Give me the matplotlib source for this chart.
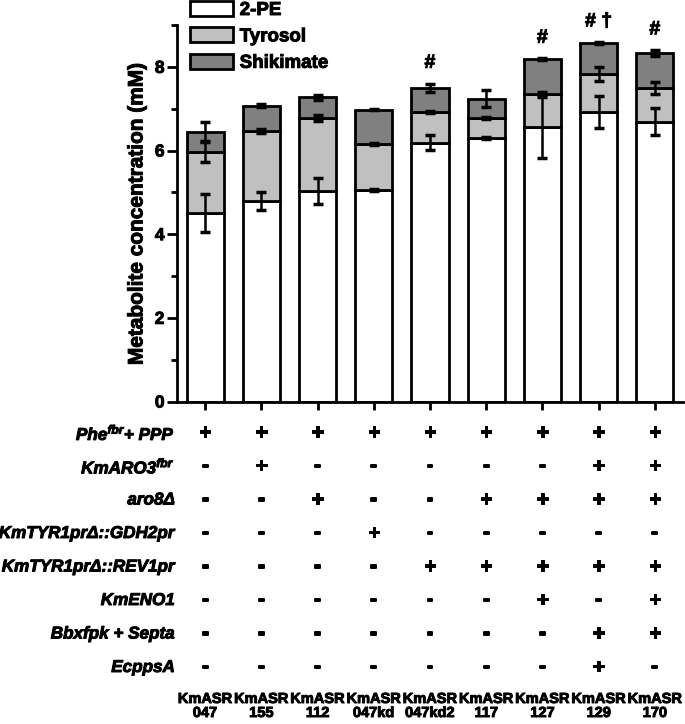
import numpy as np
import matplotlib
matplotlib.use("Agg")
import matplotlib.pyplot as plt
import matplotlib.patheffects as pe_fx
from matplotlib.patches import Patch
from matplotlib.ticker import MultipleLocator
import matplotlib.transforms as mtransforms

plt.rcParams['font.family'] = ['Liberation Sans', 'DejaVu Sans']
plt.rcParams['font.weight'] = 'bold'
plt.rcParams['mathtext.fontset'] = 'custom'
plt.rcParams['mathtext.it'] = 'Liberation Sans:italic:bold'
plt.rcParams['mathtext.rm'] = 'Liberation Sans:bold'
plt.rcParams['mathtext.default'] = 'it'

strains = ['047', '155', '112', '047kd', '047kd2', '117', '127', '129', '170']

# values (mM)
pe = [4.50, 4.79, 5.03, 5.05, 6.19, 6.30, 6.55, 6.92, 6.69]
pe_err = [0.45, 0.22, 0.31, 0.03, 0.18, 0.03, 0.72, 0.39, 0.33]
tyr = [1.47, 1.67, 1.74, 1.10, 0.73, 0.48, 0.81, 0.90, 0.81]
tyr_err = [0.24, 0.05, 0.07, 0.03, 0.03, 0.03, 0.03, 0.17, 0.14]
shk = [0.48, 0.61, 0.50, 0.83, 0.58, 0.46, 0.82, 0.75, 0.83]
shk_err = [0.23, 0.04, 0.06, 0.02, 0.10, 0.20, 0.02, 0.02, 0.07]

marks = ['', '', '', '', '#', '', '#', '# \u2020', '#']

row_labels = [r'Phe$^{fbr}$+ PPP', r'KmARO3$^{fbr}$', 'aro8\u0394',
              'KmTYR1pr\u0394::GDH2pr', 'KmTYR1pr\u0394::REV1pr', 'KmENO1',
              'Bbxfpk + Septa', 'EcppsA']
rows = [
    '+++++++++',
    '-+-----++',
    '--+--++++',
    '---+-----',
    '----+++++',
    '------+-+',
    '-------++',
    '-------+-',
]

heavy = [pe_fx.withStroke(linewidth=0.7, foreground='black')]

x = np.arange(len(strains))
pe = np.array(pe)
tyr = np.array(tyr)
shk = np.array(shk)

fig = plt.figure(figsize=(6.85, 7.24), dpi=100)
ax = fig.add_axes([177/685, 1 - 401.5/724, 506/685, (401.5 - 25)/724])

w = 0.66
lw = 2
ax.bar(x, pe, w, color='white', edgecolor='black', linewidth=lw)
ax.bar(x, tyr, w, bottom=pe, color='#c0c0c0', edgecolor='black', linewidth=lw)
ax.bar(x, shk, w, bottom=pe + tyr, color='#808080', edgecolor='black', linewidth=lw)

ek = dict(fmt='none', ecolor='black', elinewidth=1.8, capsize=3.5, capthick=2.5, zorder=5)
ax.errorbar(x, pe, yerr=pe_err, **ek)
ax.errorbar(x, pe + tyr, yerr=tyr_err, **ek)
ax.errorbar(x, pe + tyr + shk, yerr=shk_err, **ek)

tops = pe + tyr + shk + np.array(shk_err)
for xi, t, m in zip(x, tops, marks):
    if m:
        ax.text(xi, t + 0.28, m, ha='center', va='bottom', fontsize=14,
                fontweight='bold', clip_on=False, path_effects=heavy)

ax.set_xlim(-0.5, len(strains) - 0.5)
ax.set_ylim(0, 9)
ax.set_xticks(x)
ax.set_xticklabels([])
ax.yaxis.set_major_locator(MultipleLocator(2))
ax.yaxis.set_minor_locator(MultipleLocator(1))
ax.tick_params(axis='y', which='major', length=7, width=2, labelsize=12.5, pad=2)
ax.tick_params(axis='y', which='minor', length=4, width=2)
ax.tick_params(axis='x', which='major', length=6, width=2)
for s in ['top', 'right']:
    ax.spines[s].set_visible(False)
for s in ['left', 'bottom']:
    ax.spines[s].set_linewidth(2)
for lab in ax.get_yticklabels():
    lab.set_fontweight('bold')
    lab.set_path_effects(heavy)

ax.set_ylabel('Metabolite concentration (mM)', fontsize=15, fontweight='bold',
              labelpad=6, path_effects=heavy)

handles = [Patch(facecolor=c, edgecolor='black', linewidth=2) for c in ['white', '#c0c0c0', '#808080']]
leg = fig.legend(handles, ['2-PE', 'Tyrosol', 'Shikimate'], loc='upper left',
                 bbox_to_anchor=(190/685, 1 - 1/724), frameon=False,
                 handlelength=2.3, handleheight=0.85, labelspacing=0.45,
                 handletextpad=0.35, borderpad=0, borderaxespad=0,
                 prop={'weight': 'bold', 'size': 13.5})
for t in leg.get_texts():
    t.set_path_effects(heavy)

trans = mtransforms.blended_transform_factory(ax.transData, fig.transFigure)
row_y = [433 + 33.5 * i for i in range(len(row_labels))]
for lab, r, yp in zip(row_labels, rows, row_y):
    yf = 1 - yp / 724
    fig.text(175/685, yf, lab, ha='right', va='center', fontsize=12.3,
             fontweight='bold', fontstyle='italic', path_effects=heavy)
    for xi, ch in zip(x, r):
        if ch == '+':
            ax.text(xi, yf, '+', transform=trans, ha='center', va='center',
                    fontsize=15, fontweight='bold', path_effects=heavy)
        else:
            ax.text(xi, yf, '-', transform=trans, ha='center', va='center',
                    fontsize=14, fontweight='bold',
                    path_effects=[pe_fx.withStroke(linewidth=1.4, foreground='black')])

for xi, s in zip(x, strains):
    ax.text(xi, 1 - 692/724, 'KmASR\n' + s, transform=trans, ha='center', va='top',
            fontsize=10.5, fontweight='bold', linespacing=1.0, path_effects=heavy)

fig.savefig('out.png', dpi=100)
